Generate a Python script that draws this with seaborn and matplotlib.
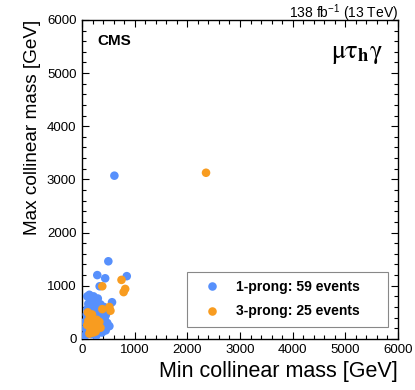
import pandas as pd
import matplotlib
matplotlib.use("Agg")
import matplotlib.pyplot as plt
import seaborn as sns
from matplotlib.ticker import MultipleLocator

# 1-prong events (min, max collinear mass in GeV)
prong1_min = [615, 500, 290, 440, 850, 335, 100, 140, 200, 270, 570, 250, 100, 100, 450, 60,
              160, 220, 300, 180, 350, 420, 120, 380, 330, 460, 280, 150, 90, 200, 250, 420,
              480, 380, 300, 160, 90, 120, 200, 350, 520, 60, 240, 310, 400, 140, 180, 270,
              90, 360, 440, 120, 230, 330, 160, 250, 380, 70, 210]
prong1_max = [3070, 1460, 1200, 1140, 1180, 990, 800, 830, 740, 680, 690, 600, 560, 380, 160, 60,
              720, 800, 760, 640, 650, 600, 660, 510, 440, 470, 510, 500, 460, 420, 370, 340,
              300, 290, 240, 290, 240, 160, 160, 180, 240, 320, 280, 130, 220, 380, 90, 60,
              120, 370, 420, 580, 540, 570, 220, 190, 120, 200, 330]

# 3-prong events
prong3_min = [2355, 750, 820, 790, 385, 540, 385, 520, 110, 150, 200, 250, 300, 120, 180, 230,
              280, 160, 330, 100, 210, 140, 260, 350, 190]
prong3_max = [3125, 1110, 940, 880, 990, 530, 560, 600, 500, 420, 340, 290, 240, 340, 240, 190,
              360, 160, 320, 260, 120, 100, 140, 210, 460]

labels = ["1-prong: 59 events", "3-prong: 25 events"]
colors = ["#5790fc", "#f89c20"]

df = pd.DataFrame({
    "min_mass": prong1_min + prong3_min,
    "max_mass": prong1_max + prong3_max,
    "category": [labels[0]] * len(prong1_min) + [labels[1]] * len(prong3_min),
})

sns.set_theme(style="ticks")
plt.rcParams["font.family"] = ["Liberation Sans", "DejaVu Sans"]
plt.rcParams.update({"text.color": "black", "axes.labelcolor": "black",
                     "xtick.color": "black", "ytick.color": "black",
                     "axes.edgecolor": "black"})

fig = plt.figure(figsize=(4.15, 3.9), dpi=100)
ax = fig.add_axes([0.1976, 0.131, 0.7614, 0.818])

sns.scatterplot(data=df, x="min_mass", y="max_mass", hue="category",
                palette=colors, s=38, edgecolor="none", ax=ax, zorder=3)

ax.set_xlim(0, 6000)
ax.set_ylim(0, 6000)
ax.xaxis.set_major_locator(MultipleLocator(1000))
ax.yaxis.set_major_locator(MultipleLocator(1000))
ax.xaxis.set_minor_locator(MultipleLocator(200))
ax.yaxis.set_minor_locator(MultipleLocator(200))
ax.tick_params(which="both", direction="in", top=True, right=True, labelsize=9.5,
               color="black", width=0.8, pad=4)
ax.tick_params(which="major", length=5)
ax.tick_params(which="minor", length=2.8)
for sp in ax.spines.values():
    sp.set_linewidth(1.0)
    sp.set_color("black")

ax.set_xlabel("Min collinear mass [GeV]", fontsize=15.5, loc="right", labelpad=3)
ax.set_ylabel("Max collinear mass [GeV]", fontsize=13.7, loc="top", labelpad=4)

ax.text(0.05, 0.957, "CMS", transform=ax.transAxes, fontsize=11, fontweight="bold",
        ha="left", va="top")
ax.text(0.953, 0.93, r"$\mathrm{\mu\tau}_{\mathbf{h}}\mathrm{\gamma}$", transform=ax.transAxes,
        fontsize=19, ha="right", va="top", math_fontfamily="stix")
ax.text(1.0, 1.006, r"138 fb$^{\mathregular{-1}}$ (13 TeV)", transform=ax.transAxes,
        fontsize=10, ha="right", va="baseline")

leg = ax.legend(loc="lower left", bbox_to_anchor=(0.333, 0.038, 0.635, 0.172), mode="expand",
                borderaxespad=0, frameon=True, fancybox=False, edgecolor="#888888",
                framealpha=1, prop={"weight": "bold", "size": 10}, markerscale=1.0,
                handletextpad=0.6, borderpad=0.6, labelspacing=0.75, handlelength=2.3)
leg.get_frame().set_linewidth(0.8)

fig.savefig("out.png", dpi=100)
